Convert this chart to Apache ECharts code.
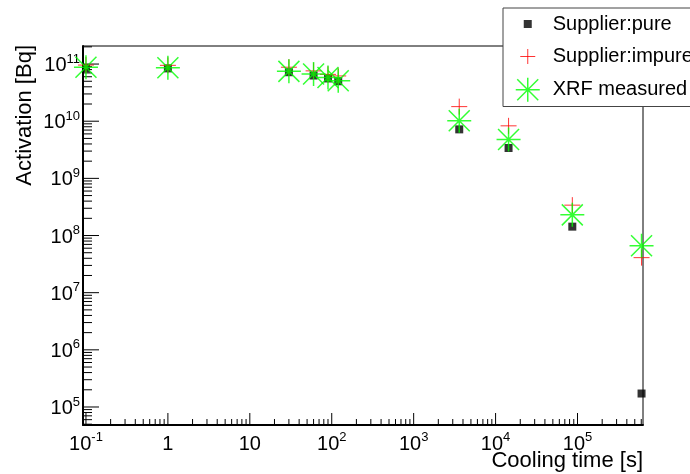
<!DOCTYPE html>
<html>
<head>
<meta charset="utf-8">
<script src="https://cdn.jsdelivr.net/npm/echarts@6/dist/echarts.min.js"></script>
<style>
html,body{margin:0;padding:0;background:#fff}
#main{width:690px;height:474px}
</style>
</head>
<body>
<div id="main"></div>
<script>
// cooling time [s] and activation [Bq]
var coolingTime = [0.1, 1, 30, 60, 90, 120, 3600, 14400, 86400, 604800];
var pureActivity = [8.4e10, 8.4e10, 7.2e10, 6.3e10, 5.6e10, 5.0e10, 7.2e9, 3.4e9, 1.43e8, 1.72e5];
var impureActivity = [9.6e10, 9.5e10, 8.8e10, 7.6e10, 6.6e10, 6.2e10, 1.8e10, 8.3e9, 3.4e8, 4.1e7];
var xrfActivity = [8.8e10, 8.6e10, 7.45e10, 6.7e10, 5.8e10, 5.1e10, 1.02e10, 4.8e9, 2.3e8, 6.6e7];
var seriesNames = ['Supplier:pure', 'Supplier:impure', 'XRF measured'];

// decades that get a label
var xDecades = [-1, 0, 1, 2, 3, 4, 5];
var yDecades = [5, 6, 7, 8, 9, 10, 11];
var xMin = 0.092, xMax = 6.3e5;
var yMin = 4.84e4, yMax = 2.07e11;

var FONT = 'Liberation Sans';
var plusPath = 'path://M0,8L16,8M8,0L8,16';
var starPath = 'path://M0,12L24,12M12,0L12,24M1.5,1.5L22.5,22.5M1.5,22.5L22.5,1.5';
// legend icons are drawn in a 24x24 box, corner dots keep the size
var squareIcon = 'path://M0,0L0.01,0M24,24L23.99,24M8,8L16,8L16,16L8,16Z';
var plusIcon = 'path://M0,0L0.01,0M24,24L23.99,24M4.5,12L19.5,12M12,4.5L12,19.5';
var starIcon = 'path://M0,12L24,12M12,0L12,24M1.5,1.5L22.5,22.5M1.5,22.5L22.5,1.5';

function pairs(xs, ys) {
    var out = [];
    for (var i = 0; i < xs.length; i++) out.push([xs[i], ys[i]]);
    return out;
}

// ROOT style ticks at 1..9 x 10^n
function tickList(decades, lo, hi) {
    var out = [];
    for (var e = decades[0] - 1; e <= decades[decades.length - 1]; e++) {
        for (var k = 1; k < 10; k++) {
            var v = k * Math.pow(10, e);
            if (v >= lo && v <= hi) out.push({v: v, major: k == 1 ? 1 : 0});
        }
    }
    return out;
}
var xTicks = tickList(xDecades, xMin, xMax);
var yTicks = tickList(yDecades, yMin, yMax);

function powLabel(v, plainSmall) {
    var lg = Math.log10(v);
    var e = Math.round(lg);
    if (Math.abs(lg - e) > 1e-6) return '';
    if (plainSmall && e == 0) return '{b|1}';
    if (plainSmall && e == 1) return '{b|10}';
    return '{b|10}{s|' + e + '}';
}

var labelRich = {
    b: {fontSize: 20, fontFamily: FONT, color: '#000', padding: [3, 0, 0, 0], verticalAlign: 'bottom'},
    s: {fontSize: 13, fontFamily: FONT, color: '#000', verticalAlign: 'top'}
};

function tickRender(isX) {
    return function (params, api) {
        var p = api.coord([api.value(0), api.value(1)]);
        var major = api.value(2);
        var shape;
        if (isX) {
            var len = major ? 12 : 6;
            shape = {x1: p[0], y1: p[1], x2: p[0], y2: p[1] - len};
        } else {
            var len2 = major ? 16 : 9;
            shape = {x1: p[0], y1: p[1], x2: p[0] + len2, y2: p[1]};
        }
        return {type: 'line', shape: shape, style: {stroke: '#000', lineWidth: 1}};
    };
}

var myChart = echarts.init(document.getElementById('main'), null, {renderer: 'canvas'});
var option = {
    animation: false,
    backgroundColor: '#fff',
    grid: {left: 83, right: 47, top: 46, bottom: 49, show: true, borderColor: '#000', borderWidth: 1, backgroundColor: 'transparent'},
    legend: {
        left: 503, top: 8, orient: 'vertical',
        itemWidth: 24, itemHeight: 24, itemGap: 8,
        padding: [4, 40, 4, 12],
        borderColor: '#444', borderWidth: 1, backgroundColor: '#fff',
        selectedMode: false,
        textStyle: {fontSize: 20, fontFamily: FONT, color: '#000', padding: [0, 0, 0, 8]},
        data: [
            {name: seriesNames[0], icon: squareIcon, itemStyle: {color: '#000', borderWidth: 0}},
            {name: seriesNames[1], icon: plusIcon, itemStyle: {color: 'transparent', borderColor: '#ff0000', borderWidth: 1}},
            {name: seriesNames[2], icon: starIcon, itemStyle: {color: 'transparent', borderColor: '#00ff00', borderWidth: 1.5}}
        ]
    },
    xAxis: {
        type: 'log', logBase: 10, min: xMin, max: xMax,
        axisLine: {show: true, lineStyle: {color: '#000', width: 2}},
        axisTick: {show: false},
        splitLine: {show: false},
        axisLabel: {
            margin: 6, showMinLabel: true, showMaxLabel: true,
            formatter: function (v) { return powLabel(v, true); },
            rich: labelRich
        }
    },
    yAxis: {
        type: 'log', logBase: 10, min: yMin, max: yMax,
        axisLine: {show: true, lineStyle: {color: '#000', width: 2}},
        axisTick: {show: false},
        splitLine: {show: false},
        axisLabel: {
            margin: 3,
            formatter: function (v) { return powLabel(v, false); },
            rich: labelRich
        }
    },
    graphic: [
        {type: 'text', x: 25, y: 45, rotation: Math.PI / 2,
         style: {text: 'Activation [Bq]', fontSize: 22, fontFamily: FONT, fill: '#000', align: 'right', verticalAlign: 'middle'}},
        {type: 'text', x: 643, y: 461,
         style: {text: 'Cooling time [s]', fontSize: 22, fontFamily: FONT, fill: '#000', align: 'right', verticalAlign: 'middle'}}
    ],
    series: [
        {type: 'custom', name: 'xticks', silent: true, z: 1,
         data: xTicks.map(function (t) { return [t.v, yMin, t.major]; }),
         renderItem: tickRender(true)},
        {type: 'custom', name: 'yticks', silent: true, z: 1,
         data: yTicks.map(function (t) { return [xMin, t.v, t.major]; }),
         renderItem: tickRender(false)},
        {type: 'scatter', name: seriesNames[0], z: 2,
         symbol: 'rect', symbolSize: 8,
         itemStyle: {color: '#000'},
         emphasis: {disabled: true},
         data: pairs(coolingTime, pureActivity)},
        {type: 'scatter', name: seriesNames[1], z: 3,
         symbol: plusPath, symbolSize: 16,
         itemStyle: {color: 'transparent', borderColor: '#ff0000', borderWidth: 1},
         emphasis: {disabled: true},
         data: pairs(coolingTime, impureActivity)},
        {type: 'scatter', name: seriesNames[2], z: 4,
         symbol: starPath, symbolSize: 24,
         itemStyle: {color: 'transparent', borderColor: '#00ff00', borderWidth: 1.5},
         emphasis: {disabled: true},
         data: pairs(coolingTime, xrfActivity)}
    ]
};
myChart.setOption(option);
</script>
</body>
</html>
